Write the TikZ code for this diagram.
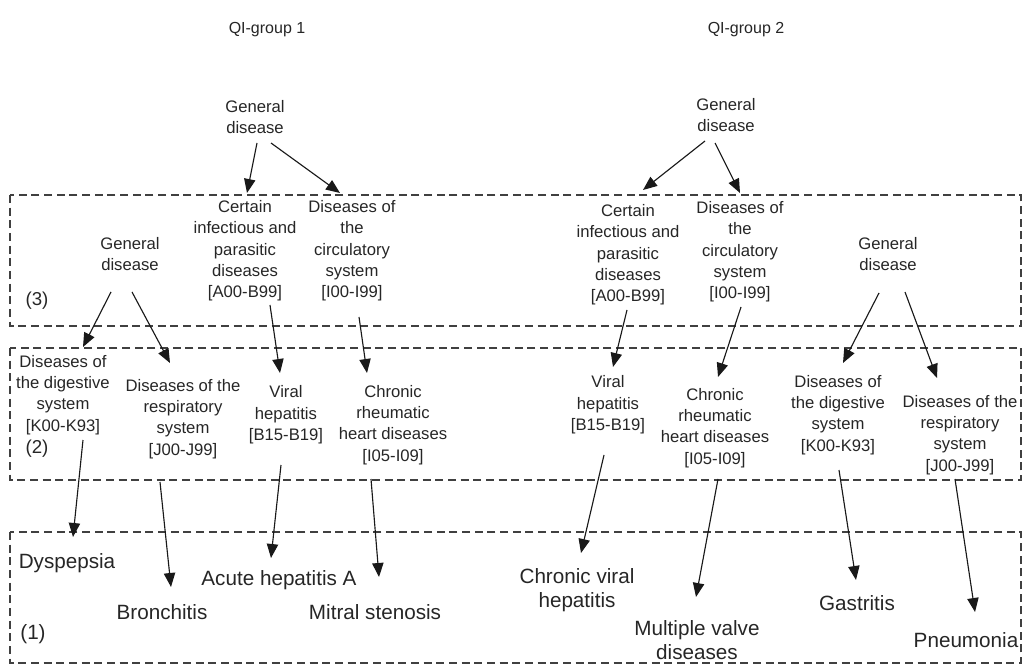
\documentclass[tikz,border=0pt]{standalone}
\usepackage{fontspec}
\setmainfont{Liberation Sans}
\usetikzlibrary{arrows.meta}

\begin{document}
\begin{tikzpicture}[x=0.75pt, y=-0.75pt,
        lvl/.style={align=center, text=black!85, font=\fontsize{12.5}{16}\selectfont},
        leaf/.style={align=center, text=black!85, font=\fontsize{15.5}{18}\selectfont},
        arr/.style={-{Triangle[length=10.5pt, width=8.5pt]}, line width=0.85pt, draw=black!90},
        band/.style={draw=black!75, line width=0.9pt, dash pattern=on 6pt off 3.5pt}]
        \useasboundingbox (0, 0) rectangle (1024, 666);

        % levels
        \draw[band] (10, 195) rectangle (1021, 326);
        \draw[band] (10, 348) rectangle (1021, 480);
        \draw[band] (10, 532) rectangle (1021, 663);
        \node[lvl, font=\fontsize{14}{16}\selectfont] (lab3) at (37, 301) {(3)};
        \node[lvl, font=\fontsize{14}{16}\selectfont] (lab2) at (37, 449) {(2)};
        \node[leaf] (lab1) at (33, 634) {(1)};

        \node[lvl, font=\fontsize{12}{14}\selectfont] (grpA) at (267, 30) {QI-group 1};
        \node[lvl, font=\fontsize{12}{14}\selectfont] (grpB) at (746, 30) {QI-group 2};

        \node[lvl] (gdA) at (255, 117) {General\\disease};
        \node[lvl] (gdB) at (726, 115) {General\\disease};

        \node[lvl] (gdC) at (130, 254) {General\\disease};
        \node[lvl] (ciA) at (245, 251) {Certain\\infectious and\\parasitic\\diseases\\{[A00-B99]}};
        \node[lvl] (ccA) at (352, 251) {Diseases of\\the\\circulatory\\system\\{[I00-I99]}};
        \node[lvl] (ciB) at (628, 255) {Certain\\infectious and\\parasitic\\diseases\\{[A00-B99]}};
        \node[lvl] (ccB) at (740, 252) {Diseases of\\the\\circulatory\\system\\{[I00-I99]}};
        \node[lvl] (gdD) at (888, 254) {General\\disease};

        \node[lvl] (dgA) at (63, 395) {Diseases of\\the digestive\\system\\{[K00-K93]}};
        \node[lvl] (rsA) at (183, 419) {Diseases of the\\respiratory\\system\\{[J00-J99]}};
        \node[lvl] (vhA) at (286, 415) {Viral\\hepatitis\\{[B15-B19]}};
        \node[lvl] (chA) at (393, 425) {Chronic\\rheumatic\\heart diseases\\{[I05-I09]}};
        \node[lvl] (vhB) at (608, 405) {Viral\\hepatitis\\{[B15-B19]}};
        \node[lvl] (chB) at (715, 428) {Chronic\\rheumatic\\heart diseases\\{[I05-I09]}};
        \node[lvl] (dgB) at (838, 415) {Diseases of\\the digestive\\system\\{[K00-K93]}};
        \node[lvl] (rsB) at (960, 435) {Diseases of the\\respiratory\\system\\{[J00-J99]}};

        \node[leaf] (dys) at (67, 563) {Dyspepsia};
        \node[leaf] (bro) at (162, 612) {Bronchitis};
        \node[leaf] (ahA) at (279, 580) {Acute hepatitis A};
        \node[leaf] (mit) at (375, 612) {Mitral stenosis};
        \node[leaf] (cvh) at (577, 590) {Chronic viral\\hepatitis};
        \node[leaf] (mvd) at (697, 640) {Multiple valve\\diseases};
        \node[leaf] (gas) at (857, 603) {Gastritis};
        \node[leaf] (pne) at (966, 640) {Pneumonia};

        \draw[arr] ([shift={(2,26)}]gdA.center) -- ([shift={(2,-58)}]ciA.center);
        \draw[arr] ([shift={(16,26)}]gdA.center) -- ([shift={(-12,-58)}]ccA.center);
        \draw[arr] ([shift={(-21,26)}]gdB.center) -- ([shift={(15,-65)}]ciB.center);
        \draw[arr] ([shift={(-11,28)}]gdB.center) -- ([shift={(0,-59)}]ccB.center);

        \draw[arr] ([shift={(-19,38)}]gdC.center) -- ([shift={(20,-48)}]dgA.center);
        \draw[arr] ([shift={(2,38)}]gdC.center) -- ([shift={(-13,-56)}]rsA.center);
        \draw[arr] ([shift={(25,54)}]ciA.center) -- ([shift={(-6,-42)}]vhA.center);
        \draw[arr] ([shift={(7,66)}]ccA.center) -- ([shift={(-26,-52)}]chA.center);
        \draw[arr] ([shift={(-1,55)}]ciB.center) -- ([shift={(5,-38)}]vhB.center);
        \draw[arr] ([shift={(1,55)}]ccB.center) -- ([shift={(3,-51)}]chB.center);
        \draw[arr] ([shift={(-9,39)}]gdD.center) -- ([shift={(5,-52)}]dgB.center);
        \draw[arr] ([shift={(17,38)}]gdD.center) -- ([shift={(-23,-57)}]rsB.center);

        \draw[arr] ([shift={(20,45)}]dgA.center) -- ([shift={(6,-26)}]dys.center);
        \draw[arr] ([shift={(-23,63)}]rsA.center) -- ([shift={(9,-25)}]bro.center);
        \draw[arr] ([shift={(-5,50)}]vhA.center) -- ([shift={(-8,-22)}]ahA.center);
        \draw[arr] ([shift={(-22,54)}]chA.center) -- ([shift={(4,-35)}]mit.center);
        \draw[arr] ([shift={(-4,50)}]vhB.center) -- ([shift={(4,-37)}]cvh.center);
        \draw[arr] ([shift={(3,51)}]chB.center) -- ([shift={(-1,-43)}]mvd.center);
        \draw[arr] ([shift={(1,55)}]dgB.center) -- ([shift={(-1,-23)}]gas.center);
        \draw[arr] ([shift={(-5,44)}]rsB.center) -- ([shift={(9,-28)}]pne.center);
\end{tikzpicture}
\end{document}
